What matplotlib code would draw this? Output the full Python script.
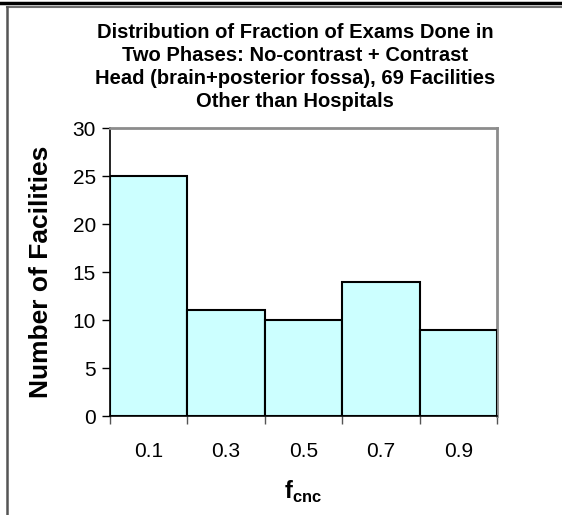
import matplotlib
matplotlib.use("Agg")
import matplotlib.pyplot as plt
from matplotlib.lines import Line2D

# Histogram data: fraction of exams done in two phases (bin centres) and facility counts
bin_centers = [0.1, 0.3, 0.5, 0.7, 0.9]
bin_edges = [0.0, 0.2, 0.4, 0.6, 0.8, 1.0]
facilities = [25, 11, 10, 14, 9]
tick_labels = ["0.1", "0.3", "0.5", "0.7", "0.9"]

title_lines = [
    "Distribution of Fraction of Exams Done in",
    "Two Phases: No-contrast + Contrast",
    "Head (brain+posterior fossa), 69 Facilities",
    "Other than Hospitals",
]

plt.rcParams["font.family"] = ["Liberation Sans", "DejaVu Sans"]
plt.rcParams["mathtext.fontset"] = "custom"
plt.rcParams["mathtext.rm"] = "Liberation Sans"
plt.rcParams["mathtext.bf"] = "Liberation Sans:bold"

W, H = 562, 515
fig = plt.figure(figsize=(W / 100, H / 100), dpi=100)
ax = fig.add_axes([110 / W, 1 - 416 / H, 387 / W, 288 / H])

ax.bar(bin_centers, facilities, width=0.2, color="#CCFFFF",
       edgecolor="black", linewidth=1.5, zorder=3)

ax.set_xlim(0, 1)
ax.set_ylim(0, 30)
ax.set_yticks(range(0, 31, 5))
ax.tick_params(axis="y", labelsize=15, length=6, width=1, pad=4)

# ticks on the bin edges, labels at the bin centres
ax.set_xticks(bin_edges)
ax.set_xticklabels([])
ax.tick_params(axis="x", which="major", length=6, width=1, color="#555555")
ax.set_xticks(bin_centers, minor=True)
ax.set_xticklabels(tick_labels, minor=True, fontsize=15)
ax.tick_params(axis="x", which="minor", length=0, pad=19)

for side in ["left", "bottom"]:
    ax.spines[side].set_color("black")
    ax.spines[side].set_linewidth(1.2)
for side in ["top", "right"]:
    ax.spines[side].set_color("#8c8c8c")
    ax.spines[side].set_linewidth(2)

ax.set_ylabel("Number of Facilities", fontsize=19, fontweight="bold", labelpad=14)
fig.text(303 / W, 1 - 492 / H, r"$\mathbf{f}_{\mathbf{cnc}}$", fontsize=17,
         ha="center", va="center")

fig.text(295 / W, 1 - 67 / H, "\n".join(title_lines), fontsize=14.5,
         fontweight="bold", ha="center", va="center", linespacing=1.28)

# outer frame: heavy rule along the top and a grey border inside it
fig.add_artist(Line2D([0, 1], [1 - 2.5 / H, 1 - 2.5 / H], color="black", linewidth=2.5))
fig.add_artist(Line2D([7 / W, 1], [1 - 7 / H, 1 - 7 / H], color="#6e6e6e", linewidth=1.5))
fig.add_artist(Line2D([7 / W, 7 / W], [0, 1 - 7 / H], color="#555555", linewidth=1.8))

fig.savefig("out.png", dpi=100)
